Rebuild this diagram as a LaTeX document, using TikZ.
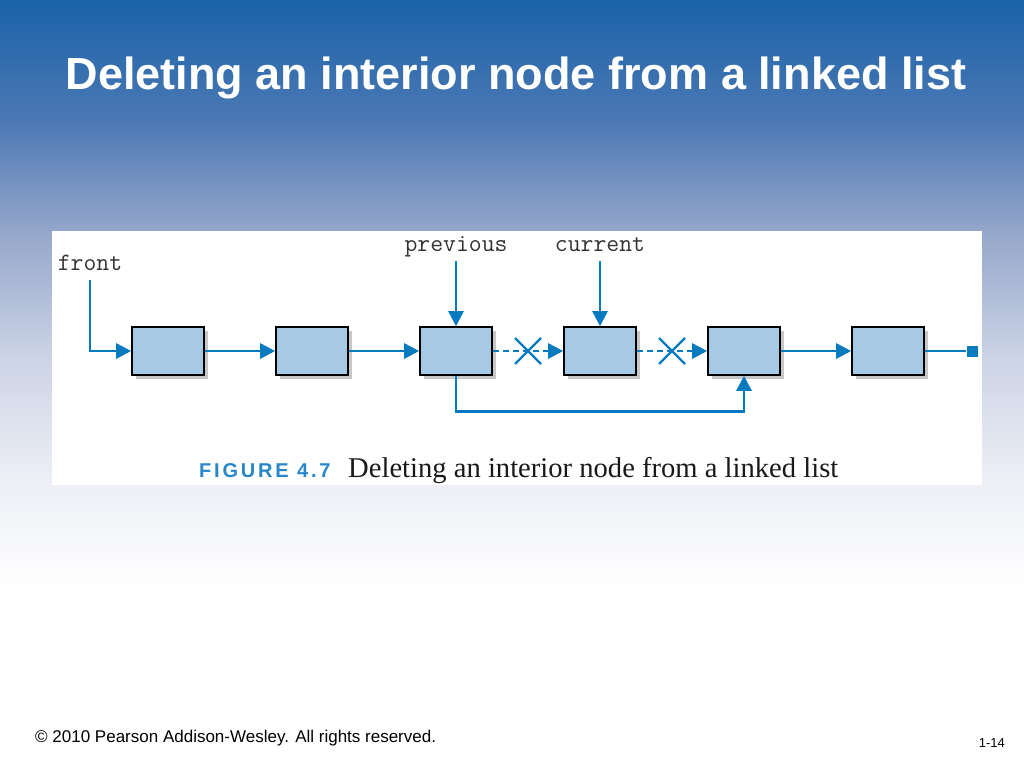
\documentclass[tikz,border=0pt]{standalone}
\usepackage{fontspec}
\setmainfont{Liberation Sans}
\newfontfamily\seriffont{Liberation Serif}
\usetikzlibrary{arrows.meta,shadows,calc}
\definecolor{arrowblue}{RGB}{8,122,192}
\definecolor{boxfill}{RGB}{166,201,230}
\definecolor{figblue}{RGB}{40,135,200}
\definecolor{bgA}{RGB}{26,99,168}
\definecolor{bgB}{RGB}{75,120,180}
\definecolor{bgC}{RGB}{148,166,202}
\definecolor{bgD}{RGB}{205,212,230}
\definecolor{bgE}{RGB}{238,240,246}
\pgfdeclareverticalshading{slidebg}{100bp}{color(0bp)=(white); color(25bp)=(white); color(36.59bp)=(white); color(43.42bp)=(bgE); color(51.56bp)=(bgD); color(60.03bp)=(bgC); color(67.19bp)=(bgB); color(75bp)=(bgA); color(100bp)=(bgA)}
\tikzset{
  lbox/.style={draw=black, line width=1.6pt, fill=boxfill, minimum width=72pt, minimum height=48pt, inner sep=0pt,
    drop shadow={shadow xshift=4pt, shadow yshift=-4pt, fill=black!22, opacity=1}},
  link/.style={draw=arrowblue, line width=2.8pt, -{Triangle[length=15pt,width=15pt]}},
  plainlink/.style={draw=arrowblue, line width=2.8pt},
  crossline/.style={draw=arrowblue, line width=2.3pt},
  varlabel/.style={inner sep=0pt, text=black!80, font=\ttfamily\fontsize{25}{28}\selectfont},
}
\begin{document}
\begin{tikzpicture}[x=1pt,y=-1pt]
\useasboundingbox (0,0) rectangle (1024,768);
\shade[shading=slidebg] (0,0) rectangle (1024,768);
\fill[white] (52,231) rectangle (982,485);

\node[anchor=base, text=white, inner sep=0pt, font=\bfseries\fontsize{45}{54}\selectfont] (title) at (516,89) {Deleting an interior node from a linked list};

% list nodes
\node[lbox] (b1) at (168,351) {};
\node[lbox] (b2) at (312,351) {};
\node[lbox] (b3) at (456,351) {};
\node[lbox] (b4) at (600,351) {};
\node[lbox] (b5) at (744,351) {};
\node[lbox] (b6) at (888,351) {};
\node[fill=arrowblue, minimum size=11pt, inner sep=0pt] (nil) at (972,351) {};

% variable labels
\node[varlabel, anchor=base] (front) at (90,270) {front};
\node[varlabel, anchor=base] (prev) at (456,251) {previous};
\node[varlabel, anchor=base] (cur) at (600,251) {current};

\draw[link] ([yshift=-10pt]front.base) |- (b1.west);
\draw[link] ([yshift=-10pt]prev.base) -- (b3.north);
\draw[link] ([yshift=-10pt]cur.base) -- (b4.north);

\draw[link] (b1.east) -- (b2.west);
\draw[link] (b2.east) -- (b3.west);
\draw[link, dash pattern=on 6pt off 4pt] (b3.east) -- (b4.west);
\draw[link, dash pattern=on 6pt off 4pt] (b4.east) -- (b5.west);
\draw[link] (b5.east) -- (b6.west);
\draw[plainlink] (b6.east) -- (nil.west);

\coordinate (x1) at ($(b3.east)!0.5!(b4.west)$);
\coordinate (x2) at ($(b4.east)!0.5!(b5.west)$);
\draw[crossline] ([shift={(-13,-13)}]x1) -- ([shift={(13,13)}]x1);
\draw[crossline] ([shift={(-13,13)}]x1) -- ([shift={(13,-13)}]x1);
\draw[crossline] ([shift={(-13,-13)}]x2) -- ([shift={(13,13)}]x2);
\draw[crossline] ([shift={(-13,13)}]x2) -- ([shift={(13,-13)}]x2);

\draw[link] (b3.south) -- ++(0,36) -| (b5.south);

% caption
\node[anchor=base west, inner sep=0pt, text=figblue, font=\bfseries\fontsize{20}{24}\selectfont] (figlbl) at (199,477) {F\kern2.8pt I\kern2.8pt G\kern2.8pt U\kern2.8pt R\kern2.8pt E\kern2.8pt\ 4\kern2.8pt.\kern2.8pt7};
\node[anchor=base west, inner sep=0pt, text=black!90, font=\seriffont\fontsize{28.6}{32}\selectfont] (cap) at (348,477) {Deleting an interior node from a linked list};

% footer
\node[anchor=base west, inner sep=0pt, font=\fontsize{17}{20}\selectfont] (foot) at (35,742) {© 2010 Pearson Addison-Wesley. All rights reserved.};
\node[anchor=base east, inner sep=0pt, font=\fontsize{13}{16}\selectfont] (page) at (1005,747) {1-14};
\end{tikzpicture}
\end{document}
